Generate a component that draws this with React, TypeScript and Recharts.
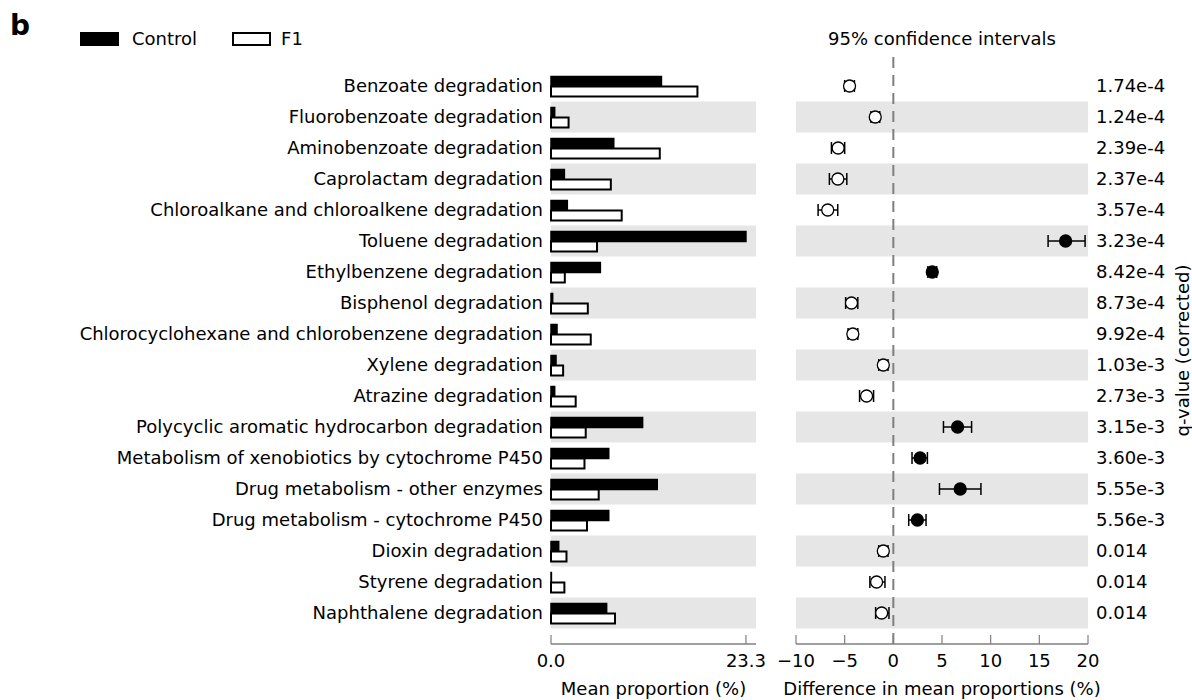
import React from 'react';
import {
  BarChart,
  Bar,
  ComposedChart,
  Scatter,
  ErrorBar,
  XAxis,
  YAxis,
  ReferenceArea,
  ReferenceLine,
  Legend,
} from 'recharts';

const categories = [
  'Benzoate degradation',
  'Fluorobenzoate degradation',
  'Aminobenzoate degradation',
  'Caprolactam degradation',
  'Chloroalkane and chloroalkene degradation',
  'Toluene degradation',
  'Ethylbenzene degradation',
  'Bisphenol degradation',
  'Chlorocyclohexane and chlorobenzene degradation',
  'Xylene degradation',
  'Atrazine degradation',
  'Polycyclic aromatic hydrocarbon degradation',
  'Metabolism of xenobiotics by cytochrome P450',
  'Drug metabolism - other enzymes',
  'Drug metabolism - cytochrome P450',
  'Dioxin degradation',
  'Styrene degradation',
  'Naphthalene degradation',
];

const controlMeans = [13.2, 0.44, 7.5, 1.6, 1.95, 23.3, 5.9, 0.2, 0.72, 0.6, 0.44, 10.95, 6.9, 12.7, 6.9, 0.92, 0.05, 6.65];
const f1Means = [17.5, 2.1, 13.0, 7.15, 8.45, 5.5, 1.65, 4.4, 4.75, 1.45, 2.95, 4.15, 4.0, 5.7, 4.3, 1.85, 1.6, 7.65];

const meanDiffs = [-4.5, -1.86, -5.67, -5.7, -6.74, 17.7, 4.0, -4.3, -4.16, -1.03, -2.75, 6.6, 2.75, 6.87, 2.47, -1.03, -1.72, -1.2];
const ciLower = [-5.0, -2.3, -6.36, -6.57, -7.73, 15.9, 3.55, -4.9, -4.65, -1.5, -3.47, 5.15, 1.92, 4.74, 1.58, -1.5, -2.41, -1.82];
const ciUpper = [-4.0, -1.4, -5.0, -4.78, -5.71, 19.7, 4.45, -3.65, -3.65, -0.55, -2.03, 8.04, 3.5, 9.0, 3.36, -0.55, -0.86, -0.45];

const qValues = [
  '1.74e-4', '1.24e-4', '2.39e-4', '2.37e-4', '3.57e-4', '3.23e-4', '8.42e-4', '8.73e-4', '9.92e-4',
  '1.03e-3', '2.73e-3', '3.15e-3', '3.60e-3', '5.55e-3', '5.56e-3', '0.014', '0.014', '0.014',
];

const meanTicks = [0, 23.3];
const diffTicks = [-10, -5, 0, 5, 10, 15, 20];

const rows = categories.map((name, i) => ({
  name,
  control: controlMeans[i],
  f1: f1Means[i],
  diff: meanDiffs[i],
  err: [meanDiffs[i] - ciLower[i], ciUpper[i] - meanDiffs[i]],
}));

const shadedRows = categories.filter((_, i) => i % 2 === 1);

const AXIS_GRAY = '#7f7f7f';
const BAND_GRAY = '#e6e6e6';
const FONT = 18;

const renderDot = (props: any) => {
  const { cx, cy, payload } = props;
  if (cx == null || cy == null) return null;
  const filled = payload && payload.diff > 0;
  return <circle cx={cx} cy={cy} r={6} fill={filled ? '#000' : '#fff'} stroke="#000" strokeWidth={1.3} />;
};

const renderLegend = (props: any) => {
  const payload = props.payload || [];
  return (
    <div style={{ display: 'flex', alignItems: 'center', height: 20, fontSize: FONT, lineHeight: '20px', color: '#000' }}>
      {payload.map((e: any, i: number) => (
        <div key={i} style={{ display: 'flex', alignItems: 'center', marginRight: i === 0 ? 35 : 0 }}>
          <svg width={39} height={14} style={{ display: 'block' }}>
            <rect x={1} y={1} width={37} height={12} fill={e.color} stroke="#000" strokeWidth={2} />
          </svg>
          <span style={{ marginLeft: i === 0 ? 13 : 10 }}>{e.value}</span>
        </div>
      ))}
    </div>
  );
};

const renderQLabel = (props: any) => {
  const vb = props.viewBox || {};
  const x = vb.x + vb.width - 10;
  const y = vb.y + vb.height / 2;
  return (
    <text x={x} y={y} transform={`rotate(-90 ${x} ${y})`} textAnchor="middle" dominantBaseline="central" fontSize={FONT} fill="#000">
      q-value (corrected)
    </text>
  );
};

const fmtDiff = (v: number) => (v < 0 ? '\u2212' + Math.abs(v) : String(v));

export default function App() {
  return (
    <div
      style={{
        position: 'absolute',
        left: 0,
        top: 0,
        width: 1192,
        height: 700,
        background: '#fff',
        fontFamily: '"DejaVu Sans", sans-serif',
        overflow: 'hidden',
      }}
    >
      <div style={{ position: 'absolute', left: 10, top: 12, fontSize: 28, lineHeight: '28px', fontWeight: 'bold' }}>b</div>
      <div style={{ position: 'absolute', left: 796, top: 30, width: 292, textAlign: 'center', fontSize: FONT, lineHeight: '18px' }}>
        95% confidence intervals
      </div>

      <div style={{ position: 'absolute', left: 0, top: 0 }}>
        <BarChart
          width={770}
          height={700}
          data={rows}
          layout="vertical"
          margin={{ top: 37, right: 14, bottom: 0, left: 0 }}
          barGap={0}
          barSize={10}
        >
          {shadedRows.map((c) => (
            <ReferenceArea key={c} y1={c} y2={c} fill={BAND_GRAY} fillOpacity={1} stroke="none" ifOverflow="visible" />
          ))}
          <XAxis
            type="number"
            domain={[0, 24.5]}
            ticks={meanTicks}
            tickFormatter={(v: number) => v.toFixed(1)}
            height={56}
            axisLine={{ stroke: AXIS_GRAY, strokeWidth: 1.6 }}
            tickLine={{ stroke: AXIS_GRAY, strokeWidth: 1.2 }}
            tickSize={-9}
            tickMargin={19}
            tick={{ fontSize: FONT, fill: '#000' }}
            label={{ value: 'Mean proportion (%)', position: 'insideBottom', offset: 5, fontSize: FONT, fill: '#000' }}
          />
          <YAxis
            type="category"
            dataKey="name"
            width={551}
            axisLine={false}
            tickLine={false}
            tickSize={0}
            tickMargin={8}
            interval={0}
            padding={{ top: 13.5, bottom: 15.5 }}
            tick={{ fontSize: FONT, fill: '#000' }}
          />
          <Legend
            verticalAlign="top"
            align="left"
            content={renderLegend}
            wrapperStyle={{ top: 29, left: 80, width: 'auto' }}
          />
          <Bar dataKey="control" name="Control" fill="#000" stroke="#000" strokeWidth={1.5} isAnimationActive={false} />
          <Bar dataKey="f1" name="F1" fill="#fff" stroke="#000" strokeWidth={2} isAnimationActive={false} />
        </BarChart>
      </div>

      <div style={{ position: 'absolute', left: 770, top: 0 }}>
        <ComposedChart
          width={422}
          height={700}
          data={rows}
          layout="vertical"
          margin={{ top: 57, right: 0, bottom: 0, left: 26 }}
        >
          {shadedRows.map((c) => (
            <ReferenceArea key={c} y1={c} y2={c} fill={BAND_GRAY} fillOpacity={1} stroke="none" ifOverflow="visible" />
          ))}
          <XAxis
            type="number"
            dataKey="diff"
            domain={[-10, 20]}
            ticks={diffTicks}
            tickFormatter={fmtDiff}
            height={56}
            axisLine={{ stroke: AXIS_GRAY, strokeWidth: 1.6 }}
            tickLine={{ stroke: AXIS_GRAY, strokeWidth: 1.2 }}
            tickSize={-9}
            tickMargin={19}
            tick={{ fontSize: FONT, fill: '#000' }}
            label={{ value: 'Difference in mean proportions (%)', position: 'insideBottom', offset: 5, fontSize: FONT, fill: '#000' }}
          />
          <YAxis
            type="category"
            scale="band"
            dataKey="name"
            orientation="right"
            width={104}
            axisLine={false}
            tickLine={false}
            tickSize={0}
            tickMargin={8}
            interval={0}
            padding={{ top: 13.5, bottom: 15.5 }}
            tickFormatter={(v: string) => qValues[categories.indexOf(v)]}
            tick={{ fontSize: FONT, fill: '#000' }}
            label={renderQLabel}
          />
          <ReferenceLine x={0} stroke={AXIS_GRAY} strokeWidth={2} strokeDasharray="11 7" />
          <Scatter dataKey="diff" shape={renderDot} isAnimationActive={false}>
            <ErrorBar dataKey="err" direction="x" width={6} stroke="#000" strokeWidth={1.5} />
          </Scatter>
        </ComposedChart>
      </div>
    </div>
  );
}
